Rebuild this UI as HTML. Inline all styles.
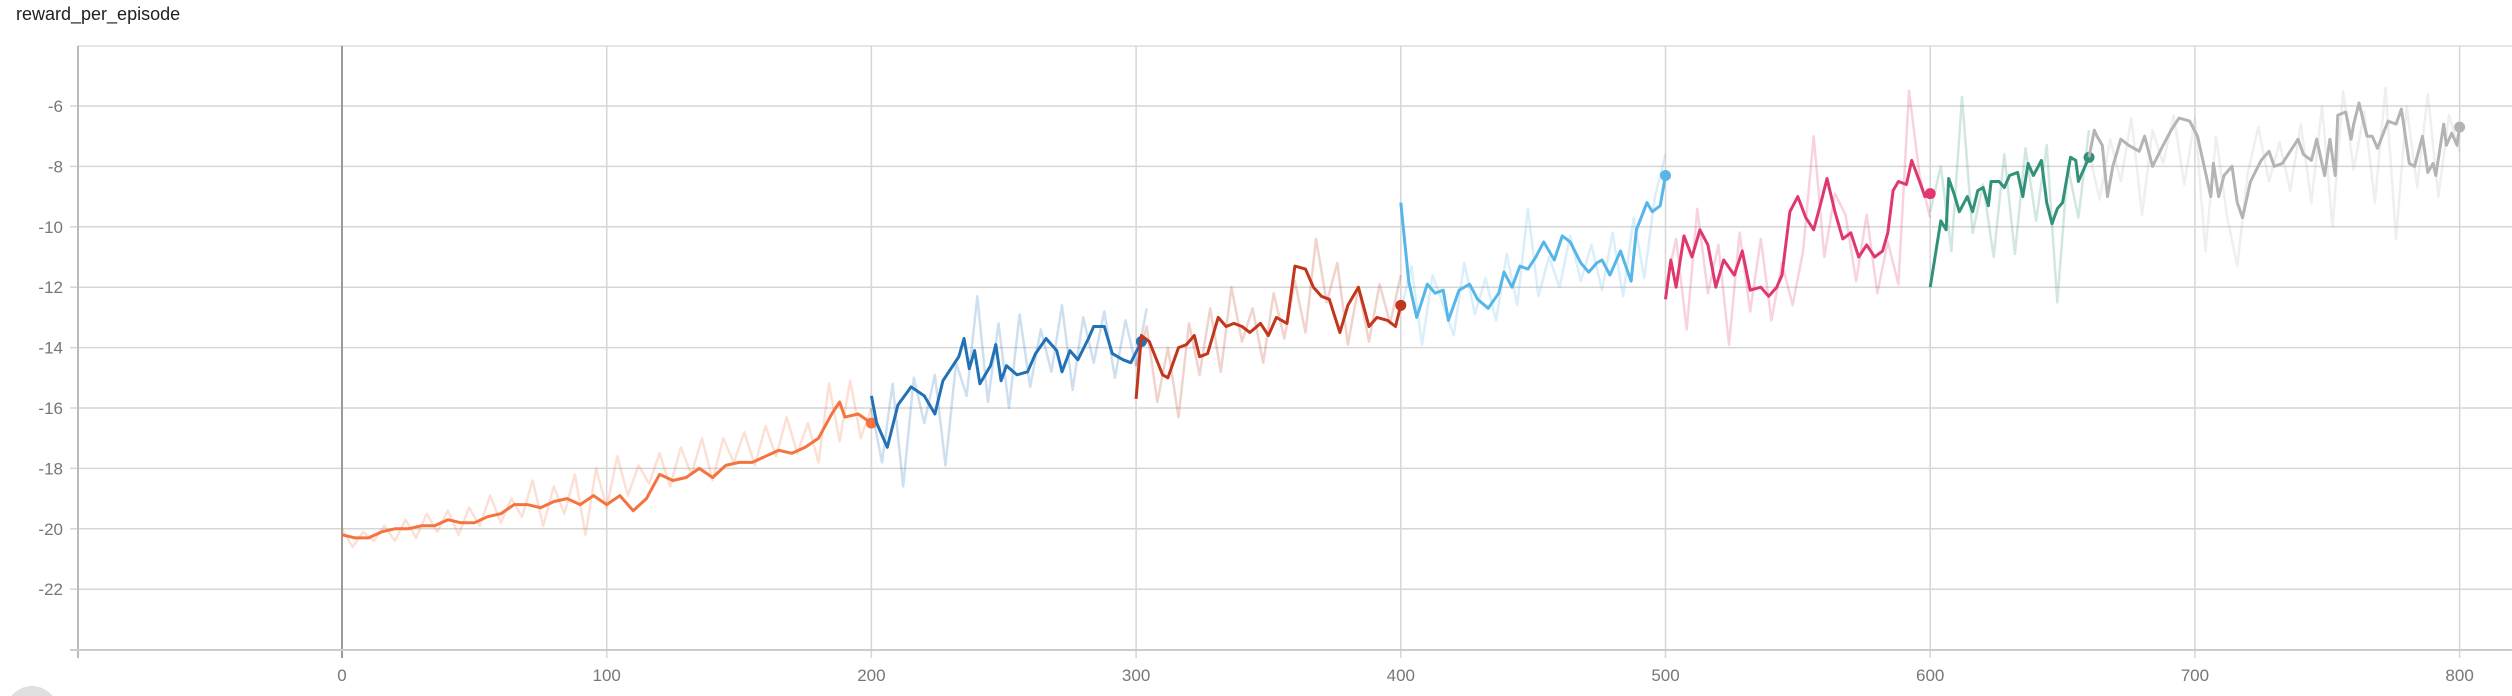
<!DOCTYPE html>
<html><head><meta charset="utf-8"><style>
body{margin:0;background:#fff;width:2512px;height:696px;overflow:hidden;font-family:"Liberation Sans",sans-serif}
#title{position:absolute;left:16px;top:4px;font-size:18px;color:#212121}
</style></head><body>
<div id="title">reward_per_episode</div>
<svg id="chart" width="2512" height="696" style="position:absolute;left:0;top:0;overflow:hidden">
<defs><clipPath id="clip"><rect x="78" y="46" width="2434" height="604"/></clipPath></defs>
<g id="grid"></g><g id="marks" clip-path="url(#clip)"></g><g id="axes"></g>
<circle cx="32" cy="712" r="26" fill="#e0e0e0"/>
</svg>
<script>
const xTicks=[0,100,200,300,400,500,600,700,800];
const yTicks=[-6,-8,-10,-12,-14,-16,-18,-20,-22];
const seriesNames=['orange','blue','red','lightblue','pink','teal','gray'];
const seriesColors=['#f4733e','#2271b5','#c1361c','#57b6e8','#e0386d','#32917a','#b4b4b4'];
const orangeSteps=[0,5,10,15,20,25,30,35,40,45,50,55,60,65,70,75,80,85,90,95,100,105,110,115,120,125,130,135,140,145,150,155,160,165,170,175,180,185,188,190,195,200];
const orangeVals=[-20.2,-20.3,-20.3,-20.1,-20.0,-20.0,-19.9,-19.9,-19.7,-19.8,-19.8,-19.6,-19.5,-19.2,-19.2,-19.3,-19.1,-19.0,-19.2,-18.9,-19.2,-18.9,-19.4,-19.0,-18.2,-18.4,-18.3,-18.0,-18.3,-17.9,-17.8,-17.8,-17.6,-17.4,-17.5,-17.3,-17.0,-16.2,-15.8,-16.3,-16.2,-16.5];
const blueSteps=[200,202,206,210,215,220,224,227,233,235,237,239,241,245,247,249,251,255,259,262,266,270,272,275,278,282,284,288,291,295,298,302];
const blueVals=[-15.6,-16.5,-17.3,-15.9,-15.3,-15.6,-16.2,-15.1,-14.3,-13.7,-14.7,-14.1,-15.2,-14.6,-13.9,-15.1,-14.6,-14.9,-14.8,-14.2,-13.7,-14.1,-14.8,-14.1,-14.4,-13.7,-13.3,-13.3,-14.2,-14.4,-14.5,-13.8];
const redSteps=[300,302,305,310,312,316,319,322,324,327,331,334,337,340,343,347,350,353,357,360,364,367,370,373,377,380,384,388,391,395,398,400];
const redVals=[-15.7,-13.6,-13.8,-14.9,-15.0,-14.0,-13.9,-13.6,-14.3,-14.2,-13.0,-13.3,-13.2,-13.3,-13.5,-13.2,-13.6,-13.0,-13.2,-11.3,-11.4,-12.0,-12.3,-12.4,-13.5,-12.6,-12.0,-13.3,-13.0,-13.1,-13.3,-12.6];
const lightblueSteps=[400,403,406,410,413,416,418,422,426,429,433,437,439,442,445,448,451,454,458,461,464,468,471,474,476,479,483,487,489,493,495,498,500];
const lightblueVals=[-9.2,-11.8,-13.0,-11.9,-12.2,-12.1,-13.1,-12.1,-11.9,-12.4,-12.7,-12.2,-11.5,-12.0,-11.3,-11.4,-11.0,-10.5,-11.1,-10.3,-10.5,-11.2,-11.5,-11.2,-11.1,-11.6,-10.8,-11.8,-10.1,-9.2,-9.5,-9.3,-8.3];
const pinkSteps=[500,502,504,507,510,513,516,519,522,526,529,532,536,539,542,544,547,550,553,556,559,561,564,567,570,573,576,579,582,584,586,588,591,593,596,598,600];
const pinkVals=[-12.4,-11.1,-12.0,-10.3,-11.0,-10.1,-10.6,-12.0,-11.1,-11.6,-10.8,-12.1,-12.0,-12.3,-12.0,-11.6,-9.5,-9.0,-9.7,-10.1,-9.1,-8.4,-9.5,-10.4,-10.2,-11.0,-10.6,-11.0,-10.8,-10.2,-8.8,-8.5,-8.6,-7.8,-8.5,-9.0,-8.9];
const tealSteps=[600,604,606,607,609,611,614,616,618,620,622,623,626,628,630,633,635,637,639,642,644,646,648,650,653,655,656,660];
const tealVals=[-12.0,-9.8,-10.1,-8.4,-8.9,-9.5,-9.0,-9.5,-8.8,-8.7,-9.3,-8.5,-8.5,-8.7,-8.3,-8.2,-9.0,-7.9,-8.3,-7.8,-9.2,-9.9,-9.4,-9.2,-7.7,-7.8,-8.5,-7.7];
const graySteps=[660,662,663,665,667,669,672,675,679,681,684,688,691,694,698,701,704,706,707,709,711,714,716,718,721,725,728,730,733,736,739,741,744,746,749,751,753,754,757,759,760,762,765,767,769,773,776,778,781,783,786,788,790,791,794,795,797,799,800];
const grayVals=[-7.7,-6.8,-7.0,-7.3,-9.0,-8.0,-7.1,-7.3,-7.5,-7.0,-8.0,-7.3,-6.8,-6.4,-6.5,-7.0,-8.2,-9.0,-7.9,-9.0,-8.3,-8.0,-9.2,-9.7,-8.5,-7.8,-7.5,-8.0,-7.9,-7.5,-7.1,-7.6,-7.8,-7.1,-8.3,-7.1,-8.3,-6.3,-6.2,-7.1,-6.6,-5.9,-7.0,-7.0,-7.4,-6.5,-6.6,-6.1,-7.9,-8.0,-7.0,-8.2,-7.9,-8.3,-6.6,-7.3,-6.9,-7.3,-6.7];
const orangeRaw=[-20.0,-20.6,-20.1,-20.4,-19.9,-20.4,-19.7,-20.3,-19.5,-20.1,-19.4,-20.2,-19.3,-19.9,-18.9,-19.8,-19.0,-19.6,-18.4,-19.9,-18.6,-19.5,-18.2,-20.2,-18.0,-19.3,-17.6,-18.9,-17.9,-18.5,-17.5,-18.6,-17.3,-18.2,-17.0,-18.4,-17.0,-17.8,-16.8,-17.9,-16.6,-17.6,-16.3,-17.5,-16.5,-17.8,-15.2,-17.1,-15.1,-17.0,-16.0];
const blueRaw=[-16.0,-17.8,-15.2,-18.6,-15.0,-16.5,-14.9,-17.9,-14.5,-15.6,-12.3,-15.8,-13.2,-16.0,-12.9,-15.3,-13.4,-14.8,-12.6,-15.4,-13.0,-14.5,-12.8,-15.0,-13.1,-14.6,-12.7];
const redRaw=[-14.6,-13.3,-15.8,-14.0,-16.3,-13.2,-14.9,-12.7,-14.8,-12.0,-13.8,-12.7,-14.5,-12.2,-13.7,-11.8,-13.5,-10.4,-12.5,-11.2,-13.9,-12.0,-13.8,-11.9,-13.2,-11.6];
const lightblueRaw=[-12.8,-11.3,-13.9,-11.6,-12.6,-13.6,-11.2,-12.9,-11.7,-13.1,-10.9,-12.6,-9.4,-12.3,-11.0,-12.0,-10.3,-11.8,-10.6,-12.1,-10.2,-12.3,-9.7,-11.7,-9.0,-7.6];
const pinkRaw=[-12.0,-10.4,-13.4,-9.4,-12.2,-10.6,-13.9,-10.2,-12.8,-10.4,-13.1,-11.2,-12.6,-10.8,-7.0,-11.0,-8.9,-9.6,-11.8,-9.6,-12.2,-10.5,-11.9,-5.5,-8.3,-9.7];
const tealRaw=[-9.5,-8.0,-10.8,-5.7,-10.2,-8.6,-11.0,-7.6,-10.9,-7.4,-9.8,-7.3,-12.5,-8.0,-9.7,-6.8];
const grayRaw=[-7.5,-9.1,-7.1,-8.5,-6.4,-9.6,-6.8,-7.9,-6.3,-8.6,-6.4,-10.8,-7.0,-9.6,-11.3,-8.2,-6.7,-8.5,-7.2,-8.8,-6.6,-9.2,-6.0,-10.0,-5.5,-8.1,-6.2,-9.2,-5.4,-10.4,-6.0,-8.7,-5.6,-9.0,-6.3,-7.5];
const rawStarts=[0,200,300,400,500,600,660];
const rawStep=4;

const NS='http://www.w3.org/2000/svg';
const X0=342,XS=2.647,Y0=106,YS=30.2;
const xs=v=>X0+v*XS, ys=v=>Y0+(-6-v)*YS;
function mk(t,p){const e=document.createElementNS(NS,t);for(const k in p)e.setAttribute(k,p[k]);return e;}
const gridG=document.getElementById('grid'),marksG=document.getElementById('marks'),axesG=document.getElementById('axes');
const topBorder=mk('line',{x1:78,x2:2512,y1:46,y2:46,stroke:'#ddd','stroke-width':1.5});


gridG.appendChild(topBorder);
yTicks.forEach(v=>{
 const l=mk('line',{x1:70,x2:2512,y1:ys(v),y2:ys(v),stroke:'#d6d6d6','stroke-width':1.5});
 
 
 gridG.appendChild(l);
 const t=mk('text',{x:63,y:ys(v)+6,'text-anchor':'end','font-size':17,fill:'#777'});
 t.textContent=v;
 
 
 axesG.appendChild(t);
});
xTicks.forEach(v=>{
 const l=mk('line',{x1:xs(v),x2:xs(v),y1:46,y2:658,stroke:v===0?'#9a9a9a':'#d6d6d6','stroke-width':v===0?2:1.5});
 
 
 gridG.appendChild(l);
 const t=mk('text',{x:xs(v),y:681,'text-anchor':'middle','font-size':17,fill:'#777'});
 t.textContent=v;
 
 
 axesG.appendChild(t);
});
const ya=mk('line',{x1:78,x2:78,y1:46,y2:658,stroke:'#bbb','stroke-width':2});


axesG.appendChild(ya);
const xa=mk('line',{x1:70,x2:2512,y1:650,y2:650,stroke:'#ccc','stroke-width':2});


axesG.appendChild(xa);

const smSteps=[orangeSteps,blueSteps,redSteps,lightblueSteps,pinkSteps,tealSteps,graySteps];
const smVals=[orangeVals,blueVals,redVals,lightblueVals,pinkVals,tealVals,grayVals];
const raws=[orangeRaw,blueRaw,redRaw,lightblueRaw,pinkRaw,tealRaw,grayRaw];
raws.forEach((r,i)=>{
 const d=r.map((v,j)=>(j?'L':'M')+xs(rawStarts[i]+j*rawStep).toFixed(1)+','+ys(v).toFixed(1)).join('');
 const p=mk('path',{d,fill:'none',stroke:seriesColors[i],'stroke-opacity':0.22,'stroke-width':2.5,'stroke-linejoin':'round'});
 
 
 marksG.appendChild(p);
});
smVals.forEach((vals,i)=>{
 const st=smSteps[i];
 const d=vals.map((v,j)=>(j?'L':'M')+xs(st[j]).toFixed(1)+','+ys(v).toFixed(1)).join('');
 const p=mk('path',{d,fill:'none',stroke:seriesColors[i],'stroke-width':3,'stroke-linejoin':'round'});
 
 
 marksG.appendChild(p);
 const n=vals.length-1;
 const c=mk('circle',{cx:xs(st[n]),cy:ys(vals[n]),r:5.5,fill:seriesColors[i]});
 
 
 marksG.appendChild(c);
});
</script>
</body></html>
